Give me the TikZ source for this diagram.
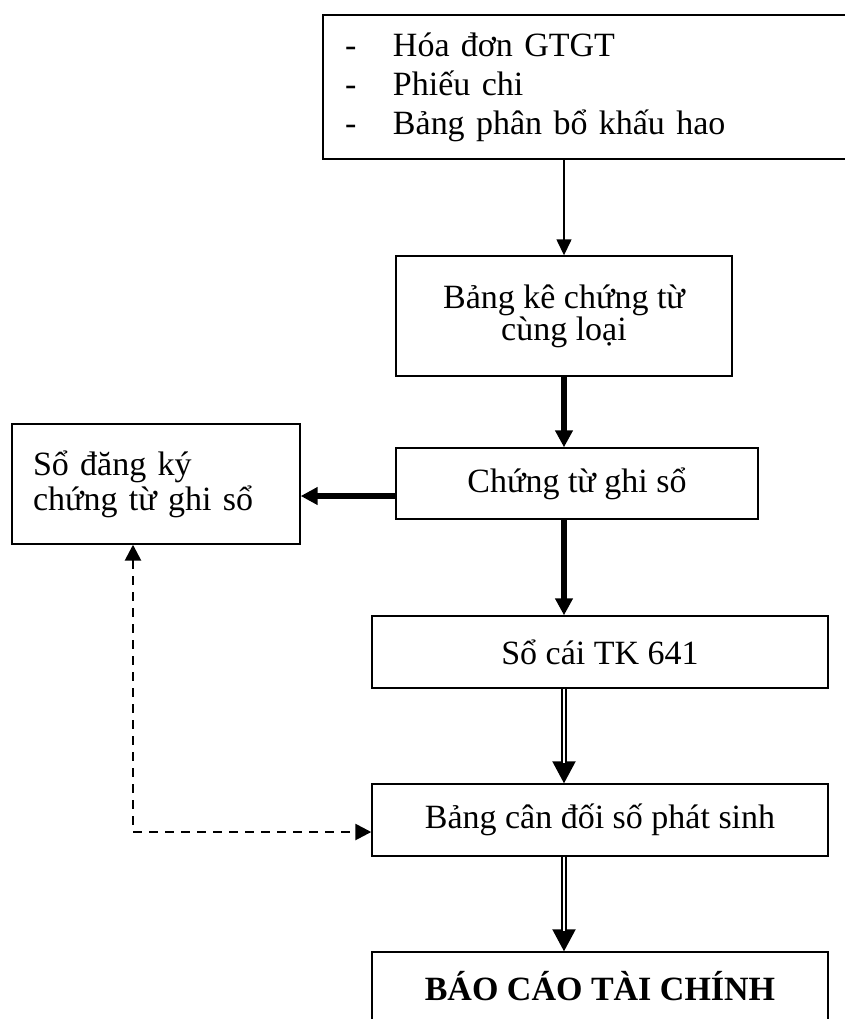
\documentclass[tikz,border=0pt]{standalone}
\usepackage{fontspec}
\setmainfont{Liberation Serif}
\usetikzlibrary{arrows.meta,calc}
\begin{document}
\begin{tikzpicture}[x=0.5pt,y=-0.5pt,
  box/.style={draw, line width=0.7pt, inner sep=0pt, font=\fontsize{17}{19.5}\selectfont},
  thinarrow/.style={line width=0.7pt, -{Triangle[length=8pt,width=7.5pt]}},
  thickarrow/.style={line width=2.8pt, -{Triangle[length=8.5pt,width=8.5pt]}},
  dbltip/.style={line width=1pt, -{Triangle[length=11pt,width=11.5pt]}},
  dblshaft/.style={line width=1pt, double, double distance=1.2pt, shorten >=10pt},
  dashedarrow/.style={line width=1.3pt, dash pattern=on 4.5pt off 3.5pt, {Triangle[length=8pt,width=8pt]}-{Triangle[length=8pt,width=8pt]}}
]
\useasboundingbox (0,0) rectangle (845,1019);
\node[box, minimum width=268.5pt, minimum height=72pt, text width=246.5pt, align=left, inner xsep=11pt] (src) at (591.5,87)
  {\makebox[24pt][l]{-}Hóa đơn GTGT\\ \makebox[24pt][l]{-}Phiếu chi\\ \makebox[24pt][l]{-}Bảng phân bổ khấu hao};
\node[box, minimum width=168pt, minimum height=60pt, align=center, font=\fontsize{17}{16}\selectfont] (bk) at (564,316) {Bảng kê chứng từ\\cùng loại};
\node[box, minimum width=181pt, minimum height=35.5pt] (cg) at (577,483.5) {Chứng từ ghi sổ};
\node[box, minimum width=144pt, minimum height=60pt, text width=123pt, inner xsep=10.5pt, align=left, font=\fontsize{17}{17.5}\selectfont] (sdk) at (156,484) {Sổ đăng ký\\chứng từ ghi sổ};
\node[box, minimum width=228pt, minimum height=36pt] (sc) at (600,652) {Sổ cái TK 641};
\node[box, minimum width=228pt, minimum height=36pt] (bcd) at (600,820) {Bảng cân đối số phát sinh};
\node[box, minimum width=228pt, minimum height=34pt, font=\fontsize{17}{19.5}\selectfont\bfseries] (bctc) at (600,986) {BÁO CÁO TÀI CHÍNH};
\draw[thinarrow] (src.south -| bk.north) -- (bk.north);
\draw[thickarrow] (bk.south) -- (bk.south |- cg.north);
\coordinate (h) at ($(cg.west)+(0,12.5)$);
\draw[thickarrow] (h) -- (h -| sdk.east);
\draw[thickarrow] (bk.south |- cg.south) -- (bk.south |- sc.north);
\draw[dbltip] (bk.south |- sc.south) -- (bk.south |- bcd.north);
\draw[dblshaft] (bk.south |- sc.south) -- (bk.south |- bcd.north);
\draw[dbltip] (bk.south |- bcd.south) -- (bk.south |- bctc.north);
\draw[dblshaft] (bk.south |- bcd.south) -- (bk.south |- bctc.north);
\coordinate (corner) at (133,832);
\draw[dashedarrow] (corner |- sdk.south) -- (corner) -- (corner -| bcd.west);
\end{tikzpicture}
\end{document}
